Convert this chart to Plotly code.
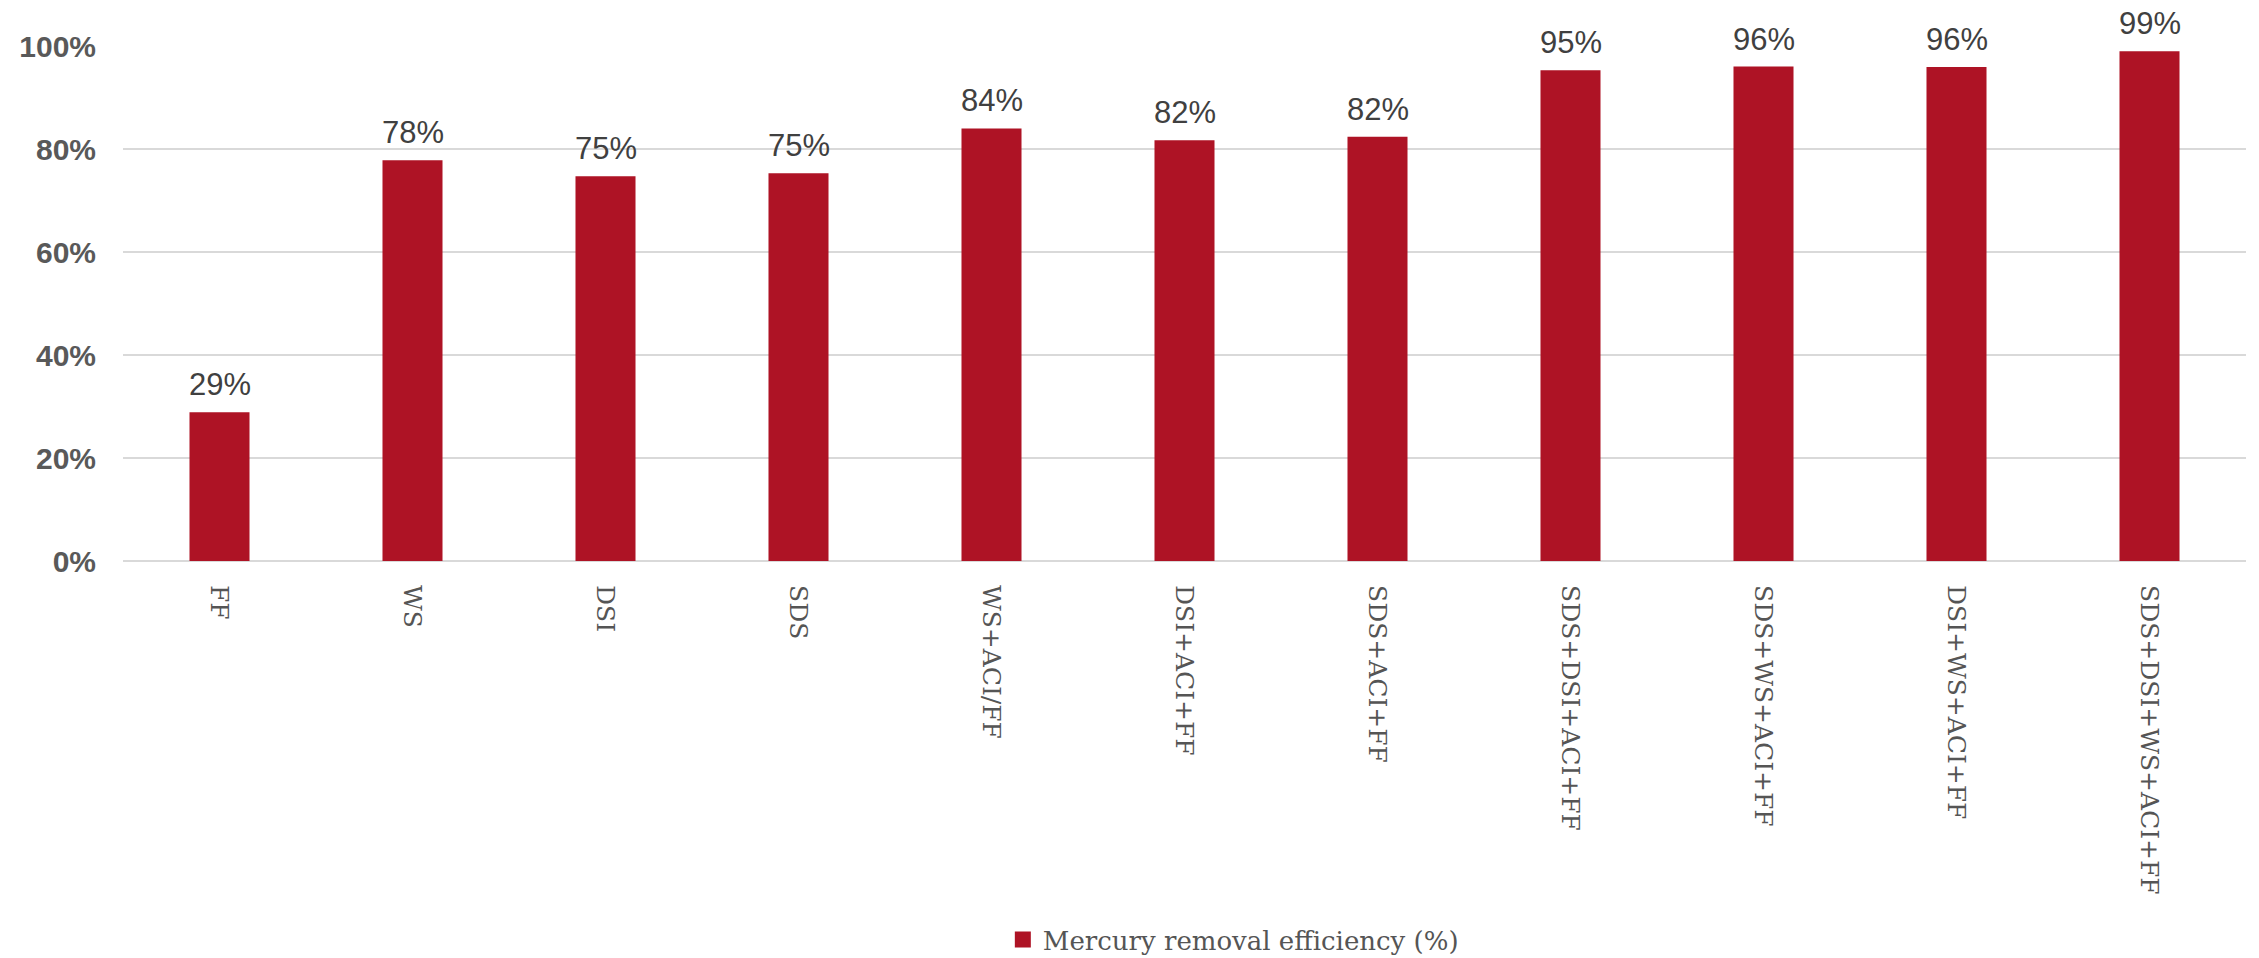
import plotly.graph_objects as go

# Control configurations and their mercury removal efficiency (fraction)
configs = ["FF", "WS", "DSI", "SDS", "WS+ACI/FF", "DSI+ACI+FF", "SDS+ACI+FF",
           "SDS+DSI+ACI+FF", "SDS+WS+ACI+FF", "DSI+WS+ACI+FF", "SDS+DSI+WS+ACI+FF"]
efficiency = [0.289, 0.778, 0.747, 0.753, 0.840, 0.817, 0.824,
              0.953, 0.960, 0.959, 0.990]
series_name = "Mercury removal efficiency (%)"
y_ticks = [0, 0.2, 0.4, 0.6, 0.8, 1.0]
y_tick_text = ["0%", "20%", "40%", "60%", "80%", "100%"]

BAR_COLOR = "#AE1325"

fig = go.Figure()
fig.add_trace(go.Bar(
    x=configs,
    y=efficiency,
    name=series_name,
    marker=dict(color=BAR_COLOR, line=dict(width=0)),
    showlegend=False,
))
# legend entry with a larger square swatch
fig.add_trace(go.Scatter(
    x=[None], y=[None], mode="markers", name=series_name,
    marker=dict(symbol="square", size=17, color=BAR_COLOR),
    showlegend=True,
))

# value labels above each bar
for c, v in zip(configs, efficiency):
    fig.add_annotation(
        x=c, y=v, text=f"{round(v * 100)}%",
        showarrow=False, yanchor="bottom", yshift=8,
        font=dict(family="Liberation Sans, Arial, sans-serif", size=31, color="#404040"),
    )

fig.update_layout(
    width=2259, height=958,
    margin=dict(l=123, r=13, t=46, b=397, autoexpand=False),
    paper_bgcolor="white", plot_bgcolor="white",
    bargap=0.689,
    legend=dict(
        orientation="h", x=0.523, xanchor="center", y=-0.735, yanchor="middle",
        font=dict(family="DejaVu Serif, serif", size=26, color="#555555"),
        itemwidth=30,
    ),
)
fig.update_xaxes(
    tickangle=90,
    tickfont=dict(family="DejaVu Serif, serif", size=25, color="#555555"),
    showgrid=False, showline=False, ticks="",
    ticklabelstandoff=23, automargin=False,
)
fig.update_yaxes(
    range=[0, 1.0],
    tickvals=y_ticks, ticktext=y_tick_text,
    tickfont=dict(family="Liberation Sans, Arial, sans-serif", size=30, color="#595959", weight="bold"),
    showgrid=True, gridcolor="#D9D9D9", gridwidth=2,
    zeroline=True, zerolinecolor="#D9D9D9", zerolinewidth=2,
    showline=False, ticks="",
    ticklabelstandoff=26, automargin=False,
)
fig.update_traces(cliponaxis=False, selector=dict(type="bar"))

fig.write_html("out.html")
